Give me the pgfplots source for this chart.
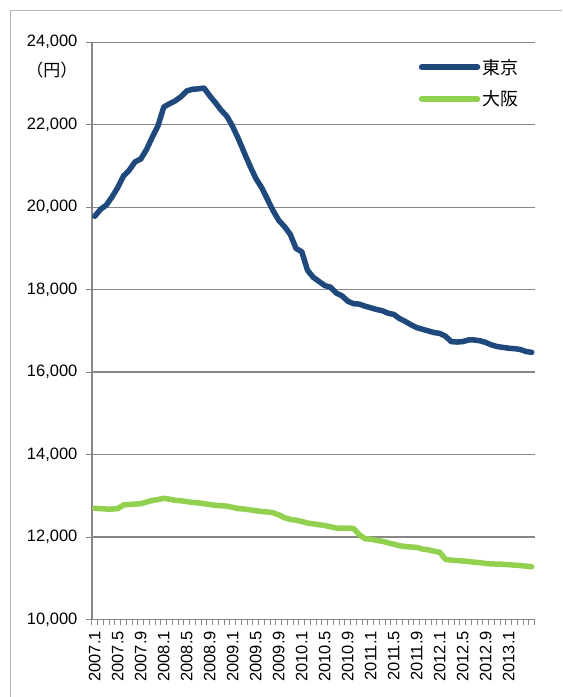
\documentclass[border=0pt]{standalone}
\usepackage{pgfplots}
\usepackage{pgfplotstable}
\pgfplotsset{compat=1.18}
\usepackage{fontspec}
\setmainfont{Liberation Sans}
\newfontfamily\cjk{Noto Sans CJK JP}
\definecolor{tokyo}{HTML}{1F497D}
\definecolor{osaka}{HTML}{92D050}
\definecolor{gridgray}{HTML}{878787}

% Monthly average (yen), Jan 2007 - May 2013; i = month index
\pgfplotstableread{
i  tokyo  osaka
0  19780  12700
1  19950  12690
2  20050  12680
3  20250  12680
4  20480  12690
5  20760  12780
6  20900  12790
7  21100  12800
8  21170  12810
9  21400  12850
10 21700  12890
11 21980  12910
12 22430  12940
13 22510  12920
14 22580  12890
15 22680  12880
16 22820  12860
17 22860  12840
18 22870  12830
19 22890  12810
20 22700  12790
21 22530  12770
22 22350  12760
23 22200  12750
24 21950  12720
25 21650  12690
26 21320  12680
27 21000  12660
28 20700  12640
29 20480  12620
30 20200  12610
31 19920  12590
32 19680  12540
33 19530  12470
34 19340  12430
35 19000  12410
36 18920  12380
37 18470  12340
38 18300  12320
39 18200  12300
40 18100  12280
41 18060  12250
42 17920  12220
43 17850  12220
44 17720  12220
45 17660  12210
46 17650  12060
47 17600  11960
48 17560  11950
49 17520  11920
50 17490  11900
51 17430  11860
52 17400  11830
53 17300  11790
54 17230  11770
55 17150  11760
56 17080  11750
57 17040  11710
58 17000  11690
59 16960  11660
60 16940  11630
61 16870  11460
62 16740  11440
63 16730  11430
64 16740  11420
65 16780  11410
66 16780  11390
67 16760  11380
68 16720  11360
69 16660  11350
70 16620  11345
71 16600  11340
72 16580  11330
73 16570  11320
74 16550  11310
75 16500  11295
76 16480  11280
}\rentdata

\begin{document}
\begin{tikzpicture}[x=1pt,y=1pt]
\path (0,0) rectangle (562,697);
\draw[gridgray!60, line width=1pt] (11,0) -- (11,686) -- (562,686);
\begin{axis}[
  at={(92pt,77pt)}, anchor=south west,
  scale only axis, width=443pt, height=577.7pt,
  xmin=-0.5, xmax=76.5, ymin=10000, ymax=24000,
  axis x line*=bottom, axis y line*=left,
  axis line style={gridgray, line width=1.3pt, -},
  ytick={10000,12000,...,24000},
  scaled y ticks=false,
  ymajorgrids,
  major grid style={draw=gridgray, line width=1.3pt},
  xtick={0,4,...,72},
  xticklabels={2007.1,2007.5,2007.9,2008.1,2008.5,2008.9,2009.1,2009.5,2009.9,2010.1,2010.5,2010.9,2011.1,2011.5,2011.9,2012.1,2012.5,2012.9,2013.1},
  minor xtick={-0.5,0.5,...,76.5},
  tick align=outside,
  major tick length=6pt, minor tick length=5pt,
  every tick/.style={gridgray, line width=1pt},
  major x tick style={draw=none},
  ticklabel style={font=\fontsize{16.5}{19}\selectfont},
  xticklabel style={rotate=90, anchor=east, xshift=1pt},
  xticklabel shift=3pt,
  yticklabel shift=5pt,
  yticklabel style={/pgf/number format/fixed, /pgf/number format/1000 sep={,}, /pgf/number format/assume math mode=true},
  legend style={at={(0.738,0.975)}, anchor=north west, draw=none, fill=none,
    font=\cjk\fontsize{18}{20}\selectfont, row sep=11pt, inner sep=0pt},
  legend cell align=left,
  legend image code/.code={\draw[#1] (0pt,0pt) -- (56pt,0pt);},
]
\addplot[tokyo, line width=5.5pt, line join=round, line cap=round] table[x=i, y=tokyo] {\rentdata};
\addlegendentry{東京}
\addplot[osaka, line width=5.5pt, line join=round, line cap=round] table[x=i, y=osaka] {\rentdata};
\addlegendentry{大阪}
\end{axis}
\node[font=\cjk\fontsize{17}{20}\selectfont] at (52,627) {（円）};
\end{tikzpicture}
\end{document}
